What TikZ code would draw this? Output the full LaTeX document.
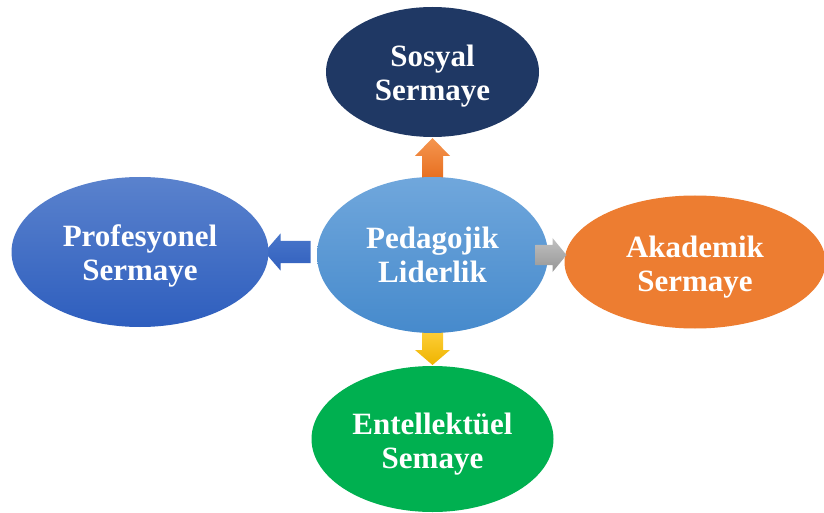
\documentclass[tikz,border=0pt]{standalone}
\usepackage{fontspec}
\setmainfont{Liberation Serif}
\usetikzlibrary{shapes.geometric,calc}
\definecolor{navy}{RGB}{31,56,100}
\definecolor{cTop}{RGB}{112,167,220}
\definecolor{cBot}{RGB}{70,138,204}
\definecolor{pTop}{RGB}{90,130,205}
\definecolor{pBot}{RGB}{46,94,190}
\definecolor{orng}{RGB}{237,125,49}
\definecolor{grn}{RGB}{0,176,80}
\definecolor{upTop}{RGB}{245,150,80}
\definecolor{upBot}{RGB}{230,108,28}
\definecolor{dnTop}{RGB}{255,208,60}
\definecolor{dnBot}{RGB}{238,180,0}
\definecolor{lfTop}{RGB}{72,118,202}
\definecolor{lfBot}{RGB}{50,96,190}
\definecolor{gyTop}{RGB}{192,192,192}
\definecolor{gyBot}{RGB}{150,150,150}
\tikzset{
  oval/.style={ellipse, inner sep=0pt, outer sep=0pt},
  lbl/.style={inner sep=0pt, text=white, align=center,
    font=\fontsize{31}{34}\selectfont\bfseries},
}
\begin{document}
\begin{tikzpicture}[x=1pt,y=1pt]
\fill[white] (0,0) rectangle (824,512);
\useasboundingbox (0,0) rectangle (824,512);
\path (432.5,440) coordinate (sc);
\path (432.5,257) coordinate (cc);
\path (140,260) coordinate (pc);
\path (695,250) coordinate (ac);
\path (432.5,73) coordinate (ec);
% ellipse outlines (for anchors)
\path (sc) node[oval, minimum width=213, minimum height=130] (s) {};
\path (cc) node[oval, minimum width=231, minimum height=156] (c) {};
\path (pc) node[oval, minimum width=257, minimum height=150] (p) {};
\path (ac) node[oval, minimum width=261, minimum height=133] (a) {};
\path (ec) node[oval, minimum width=242, minimum height=146] (e) {};
% up arrow (behind)
\shade[top color=upTop, bottom color=upBot]
  ($(c.north)+(-10.5,-4)$) -- ($(s.south)+(-10.5,-19)$) -- ($(s.south)+(-17.5,-19)$)
  -- ($(s.south)+(0,-1)$) -- ($(s.south)+(17.5,-19)$) -- ($(s.south)+(10.5,-19)$)
  -- ($(c.north)+(10.5,-4)$) -- cycle;
% down arrow (behind)
\shade[top color=dnTop, bottom color=dnBot]
  ($(c.south)+(-10.5,4)$) -- ($(e.north)+(-10.5,16)$) -- ($(e.north)+(-17.5,16)$)
  -- ($(e.north)+(0,1)$) -- ($(e.north)+(17.5,16)$) -- ($(e.north)+(10.5,16)$)
  -- ($(c.south)+(10.5,4)$) -- cycle;
% left arrow (behind)
\shade[top color=lfTop, bottom color=lfBot]
  ($(c.west |- p.east)+(-6.5,11)$) -- ($(p.east)+(12,11)$) -- ($(p.east)+(12,18.5)$)
  -- ($(p.east)+(-4,0)$) -- ($(p.east)+(12,-18.5)$) -- ($(p.east)+(12,-11)$)
  -- ($(c.west |- p.east)+(-6.5,-11)$) -- cycle;
% filled ellipses
\fill[navy] (s.center) ellipse[x radius=106.5, y radius=65];
\shade[top color=pTop, bottom color=pBot] (p.center) ellipse[x radius=128.5, y radius=75];
\fill[orng] (a.center) ellipse[x radius=130.5, y radius=66.5];
\fill[grn] (e.center) ellipse[x radius=121, y radius=73];
\shade[top color=cTop, bottom color=cBot] (c.center) ellipse[x radius=115.5, y radius=78];
% labels
\node[lbl] (st) at ($(s.center)+(0,-4)$) {Sosyal\\Sermaye};
\node[lbl] (pt) at ($(p.center)+(0,-4)$) {Profesyonel\\Sermaye};
\node[lbl] (at) at ($(a.center)+(0,-5)$) {Akademik\\Sermaye};
\node[lbl] (et) at ($(e.center)+(0,-5)$) {Entellektüel\\Semaye};
\node[lbl] (ct) at (c.center) {Pedagojik\\Liderlik};
% right arrow (on top)
\shade[top color=gyTop, bottom color=gyBot]
  ($(c.east)+(-12.5,10)$) -- ($(a.west |- c.east)+(-12,10)$) -- ($(a.west |- c.east)+(-12,17)$)
  -- ($(a.west |- c.east)+(2,0)$) -- ($(a.west |- c.east)+(-12,-17)$) -- ($(a.west |- c.east)+(-12,-10)$)
  -- ($(c.east)+(-12.5,-10)$) -- cycle;
\end{tikzpicture}
\end{document}
